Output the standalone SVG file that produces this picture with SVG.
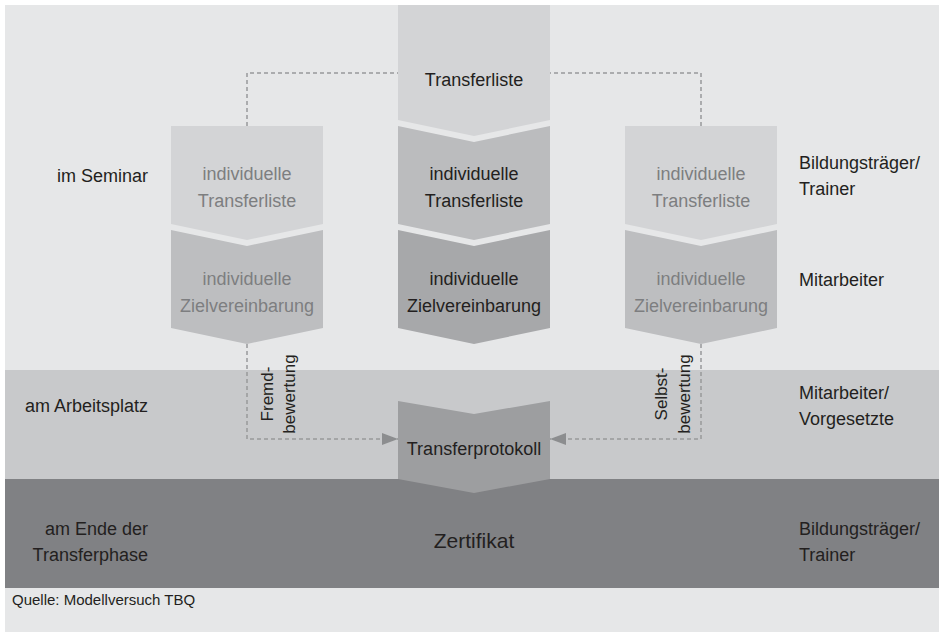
<svg xmlns="http://www.w3.org/2000/svg" width="939" height="632" viewBox="0 0 939 632">
<style>
text{font-family:"Liberation Sans",Arial,sans-serif;font-size:18px;fill:#231f20}
.m{text-anchor:middle}
.r{text-anchor:end}
.g{fill:#7d7e80}
.dash{fill:none;stroke:#98999b;stroke-width:1.5;stroke-dasharray:4 3}
</style>
<defs>
<marker id="ah" viewBox="0 0 16 12" refX="16" refY="6" markerWidth="16" markerHeight="12" markerUnits="userSpaceOnUse" orient="auto">
<path d="M0,0 L16,6 L0,12 Z" fill="#8c8d8f"/>
</marker>
</defs>
<rect x="0" y="0" width="939" height="632" fill="#ffffff"/>
<rect x="5" y="5" width="934" height="627" fill="#e6e7e8"/>
<g id="band-arbeitsplatz"><rect x="5" y="370" width="934" height="109" fill="#c8c9cb"/></g>
<g id="band-ende"><rect x="5" y="479" width="934" height="109" fill="#808184"/></g>

<g id="connectors">
<path class="dash" d="M247,126 V73 H398"/>
<path class="dash" d="M701,126 V73 H550"/>
<path class="dash" d="M247,344 V439 H398" marker-end="url(#ah)"/>
<path class="dash" d="M701,344 V439 H550" marker-end="url(#ah)"/>
</g>

<g id="transferliste">
<path d="M398,5 H550 V120 L474,136 L398,120 Z" fill="#d3d4d6"/>
<text class="m" x="474" y="86">Transferliste</text>
</g>

<g id="left-transferliste">
<path d="M171,126 H323 V224 L247,240 L171,224 Z" fill="#d3d4d6"/>
<text class="m g" x="247" y="180">individuelle</text>
<text class="m g" x="247" y="207">Transferliste</text>
</g>
<g id="left-zielvereinbarung">
<path d="M171,230 L247,246 L323,230 V328 L247,344 L171,328 Z" fill="#bdbec0"/>
<text class="m g" x="247" y="285">individuelle</text>
<text class="m g" x="247" y="312">Zielvereinbarung</text>
</g>

<g id="center-transferliste">
<path d="M398,126 L474,142 L550,126 V224 L474,240 L398,224 Z" fill="#bbbcbe"/>
<text class="m" x="474" y="180">individuelle</text>
<text class="m" x="474" y="207">Transferliste</text>
</g>
<g id="center-zielvereinbarung">
<path d="M398,230 L474,246 L550,230 V328 L474,344 L398,328 Z" fill="#a7a8aa"/>
<text class="m" x="474" y="285">individuelle</text>
<text class="m" x="474" y="312">Zielvereinbarung</text>
</g>

<g id="right-transferliste">
<path d="M625,126 H777 V224 L701,240 L625,224 Z" fill="#d3d4d6"/>
<text class="m g" x="701" y="180">individuelle</text>
<text class="m g" x="701" y="207">Transferliste</text>
</g>
<g id="right-zielvereinbarung">
<path d="M625,230 L701,246 L777,230 V328 L701,344 L625,328 Z" fill="#bdbec0"/>
<text class="m g" x="701" y="285">individuelle</text>
<text class="m g" x="701" y="312">Zielvereinbarung</text>
</g>

<g id="transferprotokoll">
<path d="M398,401 L474,414 L550,401 V479 L474,493 L398,479 Z" fill="#9d9ea0"/>
<text class="m" x="474" y="455">Transferprotokoll</text>
</g>

<g id="zertifikat">
<text class="m" x="474" y="548" style="font-size:21px">Zertifikat</text>
</g>

<g id="label-fremd">
<text class="m" transform="translate(273,394) rotate(-90)" style="font-size:17px">Fremd-</text>
<text class="m" transform="translate(295,394) rotate(-90)" style="font-size:17px">bewertung</text>
</g>
<g id="label-selbst">
<text class="m" transform="translate(667,394) rotate(-90)" style="font-size:17px">Selbst-</text>
<text class="m" transform="translate(690,394) rotate(-90)" style="font-size:17px">bewertung</text>
</g>

<g id="phase-labels">
<text class="r" x="148" y="182">im Seminar</text>
<text class="r" x="148" y="412">am Arbeitsplatz</text>
<text class="r" x="148" y="535">am Ende der</text>
<text class="r" x="148" y="561">Transferphase</text>
</g>

<g id="role-labels">
<text x="799" y="169">Bildungsträger/</text>
<text x="799" y="195">Trainer</text>
<text x="799" y="286">Mitarbeiter</text>
<text x="799" y="399">Mitarbeiter/</text>
<text x="799" y="425">Vorgesetzte</text>
<text x="799" y="535">Bildungsträger/</text>
<text x="799" y="561">Trainer</text>
</g>

<g id="source">
<text x="12" y="605" style="font-size:15px">Quelle: Modellversuch TBQ</text>
</g>
</svg>
